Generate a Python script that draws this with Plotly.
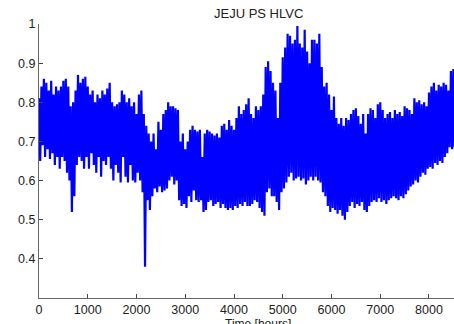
import plotly.graph_objects as go

# Sample times (hours) for the envelope readings
hours = list(range(0, 8501, 50))

# Upper readings (daily peaks)
hi = [0.81, 0.84, 0.86, 0.85, 0.83, 0.855, 0.82, 0.84, 0.83, 0.84,
      0.855, 0.86, 0.84, 0.79, 0.80, 0.83, 0.87, 0.85, 0.86, 0.865,
      0.84, 0.82, 0.83, 0.80, 0.82, 0.81, 0.83, 0.82, 0.835, 0.85,
      0.80, 0.79, 0.795, 0.80, 0.83, 0.82, 0.80, 0.81, 0.79, 0.80,
      0.77, 0.82, 0.83, 0.77, 0.74, 0.72, 0.70, 0.72, 0.68, 0.75,
      0.73, 0.77, 0.78, 0.80, 0.79, 0.79, 0.785, 0.78, 0.70, 0.72,
      0.68, 0.70, 0.73, 0.74, 0.73, 0.725, 0.73, 0.66, 0.72, 0.73,
      0.725, 0.72, 0.715, 0.72, 0.71, 0.74, 0.745, 0.73, 0.755, 0.74,
      0.73, 0.76, 0.79, 0.77, 0.78, 0.795, 0.81, 0.77, 0.76, 0.79,
      0.78, 0.79, 0.82, 0.89, 0.905, 0.88, 0.85, 0.83, 0.76, 0.85,
      0.915, 0.94, 0.975, 0.97, 0.95, 0.96, 0.995, 0.95, 0.94, 0.985,
      0.93, 0.90, 0.96, 0.96, 0.95, 0.975, 0.89, 0.84, 0.85, 0.82,
      0.78, 0.815, 0.76, 0.745, 0.76, 0.74, 0.76, 0.755, 0.77, 0.78,
      0.785, 0.765, 0.745, 0.77, 0.72, 0.77, 0.785, 0.78, 0.76, 0.795,
      0.80, 0.78, 0.76, 0.77, 0.775, 0.76, 0.78, 0.77, 0.775, 0.765,
      0.79, 0.785, 0.78, 0.77, 0.81, 0.80, 0.805, 0.795, 0.80, 0.79,
      0.825, 0.84, 0.85, 0.83, 0.845, 0.84, 0.85, 0.845, 0.83, 0.88,
      0.885]

# Lower readings (daily troughs)
lo = [0.65, 0.69, 0.66, 0.68, 0.655, 0.67, 0.64, 0.66, 0.63, 0.66,
      0.65, 0.62, 0.60, 0.52, 0.56, 0.64, 0.66, 0.65, 0.63, 0.66,
      0.63, 0.67, 0.64, 0.62, 0.66, 0.61, 0.65, 0.64, 0.66, 0.63,
      0.60, 0.64, 0.62, 0.595, 0.66, 0.61, 0.595, 0.64, 0.60, 0.595,
      0.62, 0.60, 0.57, 0.38, 0.55, 0.525, 0.56, 0.58, 0.57, 0.585,
      0.57, 0.575, 0.58, 0.60, 0.61, 0.59, 0.60, 0.55, 0.535, 0.54,
      0.53, 0.56, 0.545, 0.575, 0.55, 0.545, 0.55, 0.52, 0.525, 0.545,
      0.55, 0.535, 0.54, 0.545, 0.53, 0.54, 0.53, 0.525, 0.53, 0.525,
      0.535, 0.53, 0.54, 0.535, 0.545, 0.535, 0.535, 0.54, 0.55, 0.545,
      0.53, 0.52, 0.51, 0.57, 0.58, 0.56, 0.56, 0.545, 0.525, 0.57,
      0.58, 0.595, 0.61, 0.62, 0.60, 0.605, 0.61, 0.60, 0.605, 0.59,
      0.60, 0.61, 0.60, 0.61, 0.60, 0.595, 0.57, 0.56, 0.535, 0.52,
      0.53, 0.525, 0.515, 0.525, 0.51, 0.50, 0.52, 0.535, 0.545, 0.53,
      0.54, 0.535, 0.545, 0.525, 0.52, 0.535, 0.545, 0.55, 0.545, 0.555,
      0.545, 0.55, 0.54, 0.55, 0.555, 0.56, 0.555, 0.55, 0.56, 0.555,
      0.565, 0.575, 0.585, 0.59, 0.60, 0.595, 0.61, 0.62, 0.615, 0.63,
      0.635, 0.63, 0.645, 0.64, 0.65, 0.645, 0.66, 0.67, 0.685, 0.68,
      0.685]

x_ticks = [0, 1000, 2000, 3000, 4000, 5000, 6000, 7000, 8000]
y_ticks = [0.4, 0.5, 0.6, 0.7, 0.8, 0.9, 1.0]
y_labels = ["0.4", "0.5", "0.6", "0.7", "0.8", "0.9", "1"]

# Peaks and troughs alternate in time (trough half a step after each peak)
xs, ys = [], []
for t, h, l in zip(hours, hi, lo):
    xs += [t, t + 25]
    ys += [h, l]

font = "Liberation Sans, Arial, Helvetica, sans-serif"

fig = go.Figure(go.Scatter(x=xs, y=ys, mode="lines",
                           line=dict(color="#0000ff", width=2.2,
                                     simplify=False),
                           showlegend=False, hoverinfo="skip"))

fig.update_layout(
    width=454, height=324,
    margin=dict(l=39, r=0, t=24, b=26),
    paper_bgcolor="white", plot_bgcolor="white",
    font=dict(family=font, size=12, color="#222222"),
    xaxis=dict(range=[0, 8513], tickvals=x_ticks, ticks="inside", ticklen=4,
               tickcolor="#444444", showline=True, linecolor="#666666",
               linewidth=1, showgrid=False, zeroline=False,
               tickfont=dict(size=12.5)),
    yaxis=dict(range=[0.3, 1.0], tickvals=y_ticks, ticktext=y_labels,
               ticks="inside", ticklen=4, tickcolor="#444444",
               showline=True, linecolor="#666666", linewidth=1,
               showgrid=False, zeroline=False, tickfont=dict(size=12.5)),
    annotations=[
        dict(text="JEJU PS HLVC", xref="paper", yref="paper",
             x=0.528, y=1.04, xanchor="center", yanchor="middle",
             showarrow=False, font=dict(size=13, color="#222222")),
        dict(text="Time [hours]", xref="paper", yref="paper",
             x=0.528, y=-0.062, xanchor="center", yanchor="top",
             showarrow=False, font=dict(size=12, color="#222222")),
    ],
)

fig.write_html("out.html")
